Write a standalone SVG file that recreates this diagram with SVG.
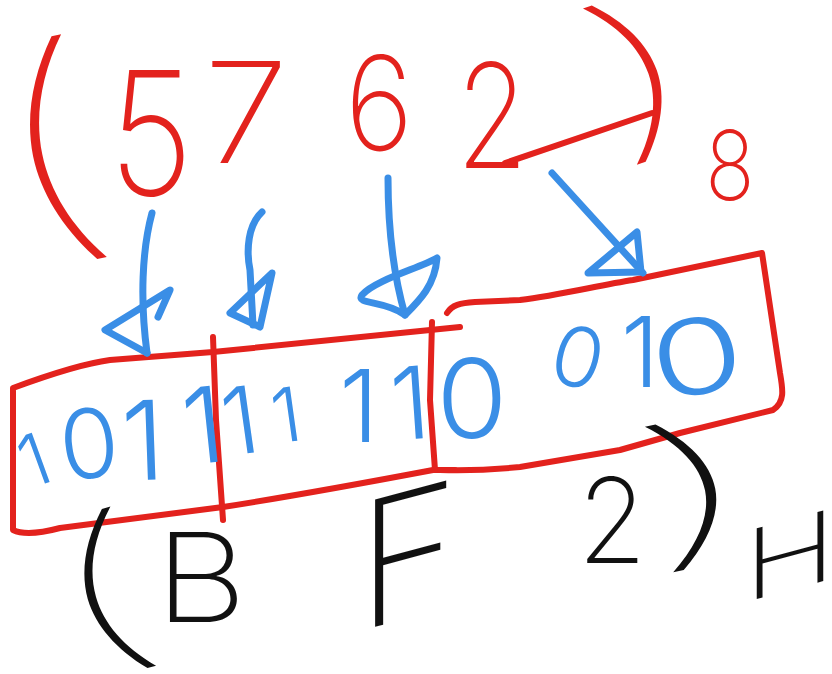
<svg xmlns="http://www.w3.org/2000/svg" width="832" height="674" viewBox="0 0 832 674">
<style>
.t{font-family:Inter,"Liberation Sans","DejaVu Sans",sans-serif;font-weight:300;text-anchor:middle}
.p{font-weight:100}
.d{font-weight:200}
.r{fill:#e3221d}
.b{fill:#3a8ee6}
.k{fill:#111}
.rs{fill:none;stroke:#e3221d;stroke-width:6;stroke-linecap:round;stroke-linejoin:round}
.bs{fill:none;stroke:#3a8ee6;stroke-width:7;stroke-linecap:round;stroke-linejoin:round}
</style>
<rect width="832" height="674" fill="#fff"/>
<g id="octal">
<text class="t p r" font-size="250" transform="translate(80,151) rotate(-11.6) scale(1.6,1)" x="-19" y="75">(</text>
<text class="t d r" font-size="172" transform="translate(151,195) scale(0.85,1)">5</text>
<text class="t d r" font-size="140" transform="translate(246,163) scale(1.1,1)">7</text>
<text class="t d r" font-size="130" transform="translate(379,150) scale(0.9,1)">6</text>
<text class="t d r" font-size="145" transform="translate(492,168) scale(0.8,1)">2</text>
<path class="rs" d="M505,163 L652,113"/>
<text class="t p r" font-size="182" transform="translate(615,88) rotate(-19) scale(2.1,1)" x="14" y="55">)</text>
<text class="t d r" font-size="96" transform="translate(730,200) scale(0.85,1)">8</text>
</g>
<g id="boxes">
<path class="rs" d="M460,327 L213,352 L110,360 C80,364 40,378 13,388 L13,530 C25,536 45,532 60,528 L223,507 C300,495 380,480 433,470 L455,470"/>
<path class="rs" d="M213,337 L216,420 L223,520"/>
<path class="rs" d="M432,322 L430,400 L435,470"/>
<path class="rs" d="M447,313 C452,305 460,303 475,302 L520,300 C560,295 600,285 633,280 L762,253 L780,373 C783,390 785,402 773,410 L680,433 L620,450 L520,467 C490,470 470,471 440,470"/>
</g>
<g id="bits-1011">
<text class="t b" font-size="72" transform="translate(34,460) rotate(-20)" y="26">1</text>
<text class="t b" font-size="96" transform="translate(89,443) rotate(-6)" y="35">0</text>
<text class="t b" font-size="110" transform="translate(143,440) rotate(-2)" y="40">1</text>
<text class="t b" font-size="105" transform="translate(203,425) rotate(-6)" y="38">1</text>
</g>
<g id="bits-1111">
<text class="t b" font-size="93" transform="translate(240,421) rotate(-8)" y="33">1</text>
<text class="t b" font-size="75" transform="translate(286,415) rotate(-8)" y="27">1</text>
<text class="t b" font-size="100" transform="translate(359,406)" y="36">1</text>
<text class="t b" font-size="100" transform="translate(410,403) rotate(-4)" y="36">1</text>
</g>
<g id="bits-0010">
<text class="t b" font-size="110" transform="translate(472,398) scale(1.05,1)" y="40">0</text>
<text class="t b" font-size="83" transform="translate(578,357) rotate(15)" y="30">0</text>
<text class="t b" font-size="97" transform="translate(640,352)" y="35">1</text>
<text class="t b" font-size="104" transform="translate(697,357) rotate(-10) scale(1.45,1)" y="37">0</text>
</g>
<g id="hex">
<text class="t p k" font-size="182" transform="translate(130,590) rotate(-16) scale(2.0,1)" x="-14" y="55">(</text>
<text class="t d k" font-size="124" transform="translate(201,622) scale(1.15,1)">B</text>
<text class="t d k" font-size="175" transform="translate(408,618) skewY(-15)">F</text>
<text class="t d k" font-size="118" transform="translate(612,563) scale(0.95,1)">2</text>
<text class="t p k" font-size="163" transform="translate(666,501) rotate(-11) scale(2.7,1)" x="12" y="49">)</text>
<text class="t d k" font-size="97" transform="translate(790,590) skewY(-15) scale(1.3,1)">H</text>
</g>
<g id="connectors">
<path class="bs" d="M152,213 C142,250 140,300 147,353"/>
<path class="bs" d="M158,317 L170,290 L105,330 L147,353"/>
<path class="bs" d="M262,212 C248,225 246,250 250,270 L253,325"/>
<path class="bs" d="M272,273 L230,313 L260,327 Z"/>
<path class="bs" d="M388,178 C388,240 395,280 405,315"/>
<path class="bs" d="M405,315 C385,300 355,305 362,295 C375,280 420,268 437,258 C435,285 420,300 405,315"/>
<path class="bs" d="M552,173 L643,273"/>
<path class="bs" d="M637,232 L641,272 L588,273 Z"/>
</g>
</svg>
